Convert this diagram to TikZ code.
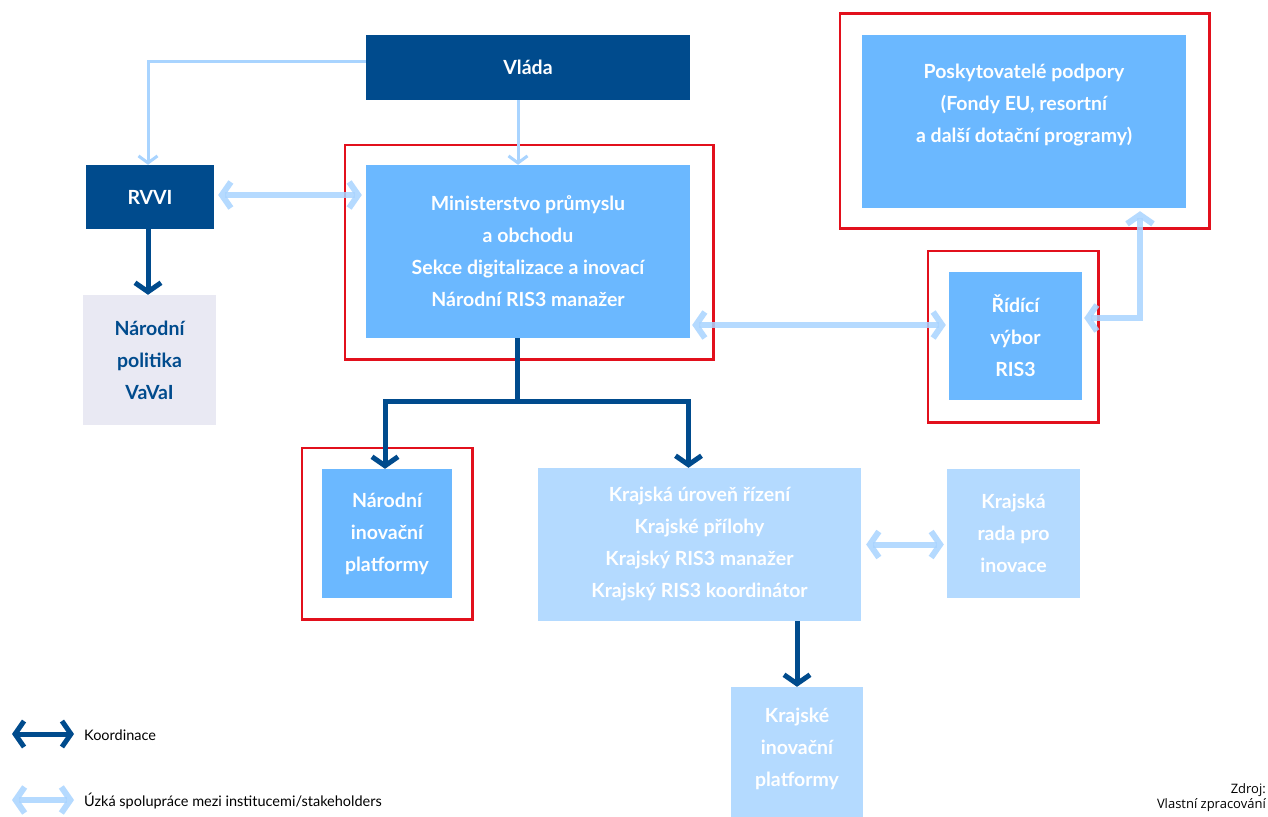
\documentclass[tikz,border=0pt]{standalone}
\usepackage{fontspec}
\setmainfont{Lato}
\newfontfamily\srcfont{Open Sans}
\usetikzlibrary{arrows.meta}
\definecolor{dblue}{HTML}{004B8D}
\definecolor{mblue}{HTML}{6BB8FF}
\definecolor{lblue}{HTML}{B4DAFF}
\definecolor{lgrey}{HTML}{E9E9F3}
\definecolor{rframe}{HTML}{E2101C}
\definecolor{larrowc}{HTML}{A9D4FF}
\begin{document}
\begin{tikzpicture}[x=1pt,y=-1pt,
  box/.style={rectangle, inner sep=0pt, align=center, text=white,
    font=\fontsize{19.5}{32}\selectfont\bfseries},
  redframe/.style={draw=rframe, line width=2.6pt},
  larr/.style={draw=larrowc, opacity=0.85, line width=6pt, {Straight Barb[length=9pt,width=26pt]}-{Straight Barb[length=9pt,width=26pt]}},
  lthin/.style={draw=larrowc, line width=3pt, -{Straight Barb[length=7pt,width=19pt]}},
  darr/.style={draw=dblue, line width=5pt, -{Straight Barb[length=9pt,width=26pt]}},
  dline/.style={draw=dblue, line width=5pt},
  legtext/.style={anchor=west, inner sep=0pt, font=\fontsize{14.5}{16}\selectfont}
]
\useasboundingbox[fill=white] (0,0) rectangle (1268,816);

% boxes
\node[box, fill=dblue, minimum width=324pt, minimum height=65pt] (vlada) at (528,67.5) {Vláda};
\node[box, fill=dblue, minimum width=128pt, minimum height=64pt] (rvvi) at (150,197) {RVVI};
\node[box, fill=lgrey, text=dblue, minimum width=133pt, minimum height=130pt] (polit) at (149.5,360) {Národní\\politika\\VaVaI};
\node[box, fill=mblue, minimum width=324pt, minimum height=173pt] (mpo) at (528,251.5) {Ministerstvo průmyslu\\a obchodu\\Sekce digitalizace a inovací\\Národní RIS3 manažer};
\node[box, fill=mblue, minimum width=324pt, minimum height=173pt] (posky) at (1024,121.5) {};
\node[box] (poskyt) at (1024,105) {Poskytovatelé podpory\\(Fondy EU, resortní\\a další dotační programy)};
\node[box, fill=mblue, minimum width=133pt, minimum height=128pt] (ridici) at (1015.5,336) {Řídící\\výbor\\RIS3};
\node[box, fill=mblue, minimum width=130pt, minimum height=129pt] (nip) at (387,533.5) {Národní\\inovační\\platformy};
\node[box, fill=lblue, minimum width=323pt, minimum height=153pt] (kraj) at (699.5,544.5) {Krajská úroveň řízení\\Krajské přílohy\\Krajský RIS3 manažer\\Krajský RIS3 koordinátor};
\node[box, fill=lblue, minimum width=133pt, minimum height=129pt] (rada) at (1013.5,533.5) {Krajská\\rada pro\\inovace};
\node[box, fill=lblue, minimum width=132pt, minimum height=132pt] (kinov) at (797,753) {};
\node[box] (kinovt) at (797,749) {Krajské\\inovační\\platformy};

% red frames
\draw[redframe] ([shift={(-21pt,20pt)}]mpo.north west) rectangle ([shift={(23pt,-21pt)}]mpo.south east);
\draw[redframe] ([shift={(-22pt,21pt)}]posky.north west) rectangle ([shift={(23pt,-20pt)}]posky.south east);
\draw[redframe] ([shift={(-21pt,21pt)}]ridici.north west) rectangle ([shift={(16pt,-22pt)}]ridici.south east);
\draw[redframe] ([shift={(-20pt,21pt)}]nip.north west) rectangle ([shift={(20pt,-21pt)}]nip.south east);

% light connectors
\draw[lthin] ([yshift=5.5pt]vlada.west) -| ([xshift=-2pt]rvvi.north);
\draw[lthin] ([xshift=-10pt]vlada.south) -- ([xshift=-10pt]mpo.north);
\draw[larr, shorten <=4pt, shorten >=4pt] ([yshift=2pt]rvvi.east) -- ([yshift=2pt]rvvi.east -| mpo.west);
\coordinate (rr) at ([yshift=11pt]ridici.west);
\draw[larr, shorten <=2pt, shorten >=3pt] (rr -| mpo.east) -- (rr);
\draw[larr, shorten <=3pt, shorten >=2pt] ([xshift=116pt]posky.south) |- ([yshift=18pt]ridici.east);
\draw[larr, shorten <=5pt, shorten >=3pt] (kraj.east) -- (kraj.east -| rada.west);

% dark connectors
\draw[darr] ([xshift=-2pt]rvvi.south) -- ([xshift=-1.5pt]polit.north);
\coordinate (split) at ([xshift=-11pt,yshift=-63pt]mpo.south);
\draw[dline] ([xshift=-11pt]mpo.south) -- (split);
\draw[darr] (split) -| ([xshift=-2pt]nip.north);
\draw[darr] (split) -| ([xshift=-11pt]kraj.north);
\draw[darr] (kraj.south -| kinov.north) -- (kinov.north);

% legend
\coordinate (l1a) at (12,734);
\coordinate (l1b) at (74,734);
\draw[dline, {Straight Barb[length=9pt,width=26pt]}-{Straight Barb[length=9pt,width=26pt]}] (l1a) -- (l1b);
\node[legtext] (leg1) at (84,735) {Koordinace};
\coordinate (l2a) at (12,800);
\coordinate (l2b) at (74,800);
\draw[larr] (l2a) -- (l2b);
\node[legtext] (leg2) at (84,801) {Úzká spolupráce mezi institucemi/stakeholders};

% source
\node[anchor=east, inner sep=0pt, align=right, font=\srcfont\fontsize{13}{15}\selectfont] (src) at (1266,798) {Zdroj:\\Vlastní zpracování};
\end{tikzpicture}
\end{document}
